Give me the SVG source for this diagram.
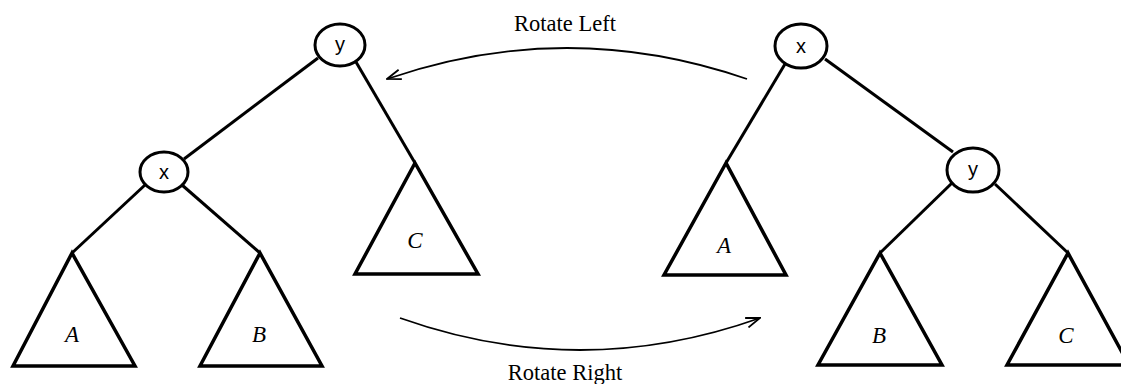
<svg xmlns="http://www.w3.org/2000/svg" width="1121" height="384" viewBox="0 0 1121 384">
<style>
.node ellipse{fill:#fff;stroke:#000;stroke-width:3}
.node text{font-family:"Liberation Sans",Arial,sans-serif;font-size:20px;text-anchor:middle;fill:#000}
.edge{stroke:#000;stroke-width:3;fill:none}
.tri polygon{fill:#fff;stroke:#000;stroke-width:3.5;stroke-linejoin:miter}
.tri text{font-family:"Liberation Serif","Times New Roman",serif;font-style:italic;font-size:23px;text-anchor:middle;fill:#000}
.arc{stroke:#000;stroke-width:1.8;fill:none}
.lbl{font-family:"Liberation Serif","Times New Roman",serif;font-size:22.5px;text-anchor:middle;fill:#000}
</style>
<defs>
<marker id="open" viewBox="0 0 16 12" refX="15" refY="6" markerWidth="16" markerHeight="12" markerUnits="userSpaceOnUse" orient="auto">
<path d="M1,1 L15,6 L1,11" fill="none" stroke="#000" stroke-width="1.8"/>
</marker>
</defs>
<g id="connectors">
<line class="edge" x1="318" y1="58" x2="184" y2="159"/>
<line class="edge" x1="356" y1="62" x2="415" y2="163"/>
<line class="edge" x1="145" y1="185" x2="72" y2="253"/>
<line class="edge" x1="182" y1="185" x2="260" y2="253"/>
<line class="edge" x1="785" y1="64" x2="726" y2="163"/>
<line class="edge" x1="825" y1="59" x2="953" y2="152"/>
<line class="edge" x1="952" y1="183" x2="880" y2="253"/>
<line class="edge" x1="995" y1="184" x2="1068" y2="253"/>
<path id="rotate-left" class="arc" d="M747,79 Q567,17 387,79" marker-end="url(#open)"/>
<path id="rotate-right" class="arc" d="M400,318 Q580,382 760,318" marker-end="url(#open)"/>
</g>
<g id="left-y" class="node"><ellipse cx="340" cy="45" rx="25" ry="21"/><text x="340" y="51">y</text></g>
<g id="left-x" class="node"><ellipse cx="164" cy="172" rx="24" ry="20"/><text x="164" y="179">x</text></g>
<g id="left-A" class="tri"><polygon points="72,253 13,366 135,366"/><text x="72" y="342">A</text></g>
<g id="left-B" class="tri"><polygon points="260,253 200,366 322,366"/><text x="259" y="342">B</text></g>
<g id="left-C" class="tri"><polygon points="415,163 355,274 478,274"/><text x="415" y="248">C</text></g>
<g id="right-x" class="node"><ellipse cx="801" cy="46" rx="26" ry="22"/><text x="801" y="53">x</text></g>
<g id="right-y" class="node"><ellipse cx="973" cy="170" rx="26" ry="22"/><text x="973" y="176">y</text></g>
<g id="right-A" class="tri"><polygon points="726,163 664,275 786,275"/><text x="724" y="253">A</text></g>
<g id="right-B" class="tri"><polygon points="880,253 818,365 942,365"/><text x="879" y="343">B</text></g>
<g id="right-C" class="tri"><polygon points="1068,253 1007,365 1129,365"/><text x="1066" y="343">C</text></g>
<text class="lbl" x="565" y="31">Rotate Left</text>
<text class="lbl" x="565" y="380">Rotate Right</text>
</svg>
